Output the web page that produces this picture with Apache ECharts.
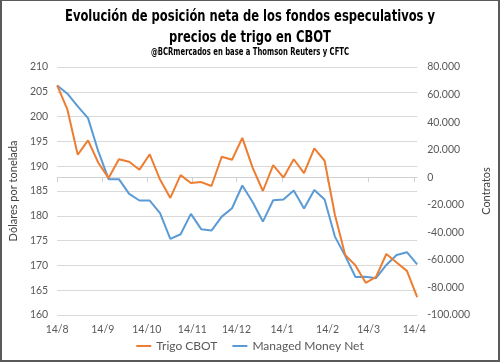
<!DOCTYPE html>
<html>
<head>
<meta charset="utf-8">
<script src="https://cdn.jsdelivr.net/npm/echarts@6/dist/echarts.min.js"></script>
<style>
  html, body { margin: 0; padding: 0; background: #fff; }
  #wrap { position: relative; width: 500px; height: 362px; }
  #chart { position: absolute; left: 0; top: 0; width: 500px; height: 362px; }
  #frame { position: absolute; left: 0; top: 0; width: 500px; height: 362px; box-sizing: border-box;
           border-style: solid; border-color: #5a5a5a; border-width: 1px 2px 2px 2px; pointer-events: none; }
</style>
</head>
<body>
<div id="wrap"><div id="chart"></div><div id="frame"></div></div>
<script>
// ---- data ----
const dates = [
  '2018-08-14','2018-08-21','2018-08-28','2018-09-04','2018-09-11','2018-09-18','2018-09-25',
  '2018-10-02','2018-10-09','2018-10-16','2018-10-23','2018-10-30','2018-11-06','2018-11-13',
  '2018-11-20','2018-11-27','2018-12-04','2018-12-11','2018-12-18','2018-12-25','2019-01-01',
  '2019-01-08','2019-01-15','2019-01-22','2019-01-29','2019-02-05','2019-02-12','2019-02-19',
  '2019-02-26','2019-03-05','2019-03-12','2019-03-19','2019-03-26','2019-04-02','2019-04-09',
  '2019-04-16'
];
// Trigo CBOT, dólares por tonelada (left axis)
const trigoCBOT = [
  206.3, 201.4, 192.3, 195.2, 190.7, 187.6, 191.4, 190.9, 189.3, 192.4, 187.3, 183.6,
  188.2, 186.6, 186.8, 186.0, 191.9, 191.3, 195.7, 189.7, 185.0, 190.2, 187.7, 191.4,
  188.6, 193.6, 191.1, 180.2, 172.1, 170.0, 166.5, 167.7, 172.3, 170.6, 168.9, 163.6
];
// Managed Money Net, contratos (right axis)
const managedMoneyNet = [
  66600, 60600, 51400, 42900, 18700, -1400, -1400, -12100, -16900, -16900, -26100, -44800,
  -41400, -26600, -37700, -38700, -28600, -22500, -6000, -18000, -32200, -16700, -16200, -9700,
  -22700, -9200, -16200, -43100, -57100, -72400, -72200, -73300, -63700, -56400, -54400, -63200
];
const xTickDates = ['2018-08-14','2018-09-14','2018-10-14','2018-11-14','2018-12-14',
                    '2019-01-14','2019-02-14','2019-03-14','2019-04-14'];
const xTickLabels = ['14/8','14/9','14/10','14/11','14/12','14/1','14/2','14/3','14/4'];
const seriesNames = ['Trigo CBOT', 'Managed Money Net'];
const titleLines = ['Evolución de posición neta de los fondos especulativos y', 'precios de trigo en CBOT'];
const subtitle = '@BCRmercados en base a Thomson Reuters y CFTC';

// ---- helpers ----
function ts(s) { const p = s.split('-').map(Number); return Date.UTC(p[0], p[1] - 1, p[2]) / 86400000; }
const xs = dates.map(ts);
const tickTs = xTickDates.map(ts);
function thousands(v) {
  const neg = v < 0; let a = Math.abs(Math.round(v)).toString();
  a = a.replace(/\B(?=(\d{3})+(?!\d))/g, '.');
  return (neg ? '-' : '') + a;
}

const FONT = 'Lato, "Noto Sans", sans-serif';
const TFONT = '"DejaVu Sans Condensed"';
const measureCtx = document.createElement('canvas').getContext('2d');
function textWidth(txt, size) {
  measureCtx.font = 'bold ' + size + 'px ' + TFONT;
  return measureCtx.measureText(txt).width;
}
const T_SIZE = 16.5, S_SIZE = 10;
const titleScale = 370 / textWidth(titleLines[0], T_SIZE);
const subScale = 198 / textWidth(subtitle, S_SIZE);

function titleText(txt, y, size, scale) {
  return {
    type: 'text', x: 250, y: y, scaleX: scale, scaleY: 1, silent: true,
    style: { text: txt, fontFamily: TFONT, fontWeight: 'bold', fontSize: size, fill: '#000',
             align: 'center', verticalAlign: 'top' }
  };
}

const chart = echarts.init(document.getElementById('chart'), null, { renderer: 'canvas' });
chart.setOption({
  animation: false,
  backgroundColor: '#ffffff',
  graphic: [
    titleText(titleLines[0], 8, T_SIZE, titleScale),
    titleText(titleLines[1], 29, T_SIZE, titleScale),
    titleText(subtitle, 47, S_SIZE, subScale)
  ],
  legend: {
    bottom: 5, left: 'center',
    itemWidth: 15, itemHeight: 2, itemGap: 15, icon: 'rect',
    textStyle: { fontFamily: FONT, fontSize: 12, color: '#595959' },
    data: seriesNames
  },
  grid: { left: 49, right: 73, top: 67, bottom: 47, containLabel: false },
  xAxis: {
    type: 'value',
    min: xs[0], max: xs[xs.length - 1],
    axisLine: { show: true, lineStyle: { color: '#d0d0d0', width: 1 } },
    axisTick: { show: true, customValues: tickTs, length: 5, lineStyle: { color: '#d0d0d0' } },
    axisLabel: {
      customValues: tickTs, margin: 9, hideOverlap: false, showMinLabel: true, showMaxLabel: true,
      fontFamily: FONT, fontSize: 10.5, color: '#595959',
      formatter: function (v) {
        const i = tickTs.indexOf(v);
        return i >= 0 ? xTickLabels[i] : '';
      }
    },
    splitLine: { show: false }
  },
  yAxis: [
    {
      type: 'value', min: 160, max: 210, interval: 5,
      name: 'Dólares por tonelada', nameLocation: 'middle', nameGap: 30, nameRotate: 90,
      nameTextStyle: { fontFamily: FONT, fontSize: 11, color: '#404040' },
      axisLine: { show: false }, axisTick: { show: false },
      axisLabel: { margin: 9, fontFamily: FONT, fontSize: 10.5, color: '#595959' },
      splitLine: { show: true, lineStyle: { color: '#d9d9d9', width: 1 } }
    },
    {
      type: 'value', min: -100000, max: 80000, interval: 20000, position: 'right',
      name: 'Contratos', nameLocation: 'middle', nameGap: 54, nameRotate: 90,
      nameTextStyle: { fontFamily: FONT, fontSize: 11, color: '#404040' },
      axisLine: { show: false }, axisTick: { show: false },
      axisLabel: { margin: 10, fontFamily: FONT, fontSize: 10.5, color: '#595959', formatter: thousands },
      splitLine: { show: false }
    }
  ],
  series: [
    {
      name: seriesNames[0], type: 'line', yAxisIndex: 0,
      data: xs.map((x, i) => [x, trigoCBOT[i]]),
      showSymbol: false, symbol: 'none',
      lineStyle: { color: '#ED7D31', width: 2 }, itemStyle: { color: '#ED7D31' }, z: 3
    },
    {
      name: seriesNames[1], type: 'line', yAxisIndex: 1,
      data: xs.map((x, i) => [x, managedMoneyNet[i]]),
      showSymbol: false, symbol: 'none',
      lineStyle: { color: '#5B9BD5', width: 2 }, itemStyle: { color: '#5B9BD5' }, z: 2
    }
  ]
});
</script>
</body>
</html>
